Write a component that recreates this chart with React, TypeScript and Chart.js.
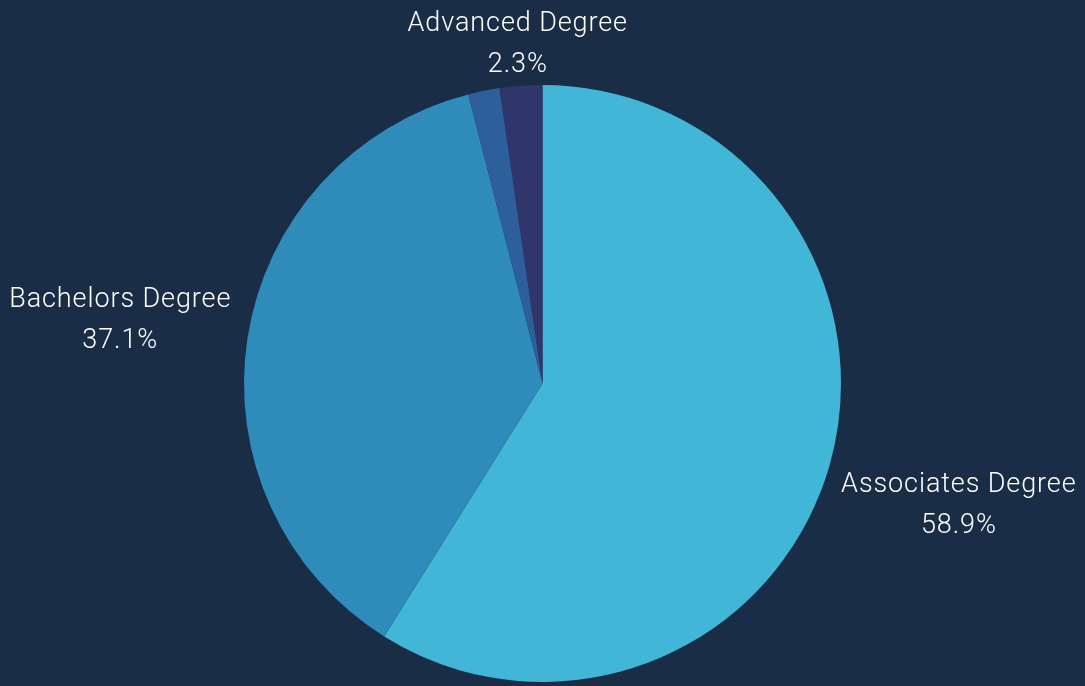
import React, { useEffect, useRef } from "react";
import { Chart, registerables } from "chart.js";

Chart.register(...registerables);

const categories = ["Associates Degree", "Bachelors Degree", "Other", "Advanced Degree"];
const values = [58.9, 37.1, 1.7, 2.3];
const colors = ["#41b6d6", "#2e8bba", "#2d5f9a", "#30356b"];
const labelMinPct = 2;

const BG = "#192d46";
const FONT = "300 27px Roboto, 'Open Sans', sans-serif";

const outsideLabels = {
  id: "outsideLabels",
  afterDatasetsDraw(chart: any) {
    const ctx = chart.ctx as CanvasRenderingContext2D;
    const meta = chart.getDatasetMeta(0);
    const total = values.reduce((a, b) => a + b, 0);
    ctx.save();
    ctx.font = FONT;
    (ctx as any).letterSpacing = "0.9px";
    ctx.fillStyle = "#ffffff";
    ctx.textAlign = "center";
    ctx.textBaseline = "middle";
    const lineH = 41;
    const gap = 16;
    const h = 40;
    const yShift = 3;
    meta.data.forEach((arc: any, i: number) => {
      const pct = (values[i] / total) * 100;
      if (pct < labelMinPct) return;
      const { x, y, startAngle, endAngle, outerRadius } = arc.getProps(
        ["x", "y", "startAngle", "endAngle", "outerRadius"],
        true
      );
      const mid = (startAngle + endAngle) / 2;
      const ux = Math.cos(mid);
      const uy = Math.sin(mid);
      const l1 = categories[i];
      const l2 = pct.toFixed(1) + "%";
      const w = Math.max(ctx.measureText(l1).width, ctx.measureText(l2).width);
      const d = outerRadius + gap + Math.abs(ux) * (w / 2) + Math.abs(uy) * (h / 2);
      const cx = x + ux * d;
      const cy = y + uy * d + yShift;
      ctx.fillText(l1, cx, cy - lineH / 2);
      ctx.fillText(l2, cx, cy + lineH / 2);
    });
    ctx.restore();
  },
};

export default function App() {
  const ref = useRef<HTMLCanvasElement | null>(null);
  useEffect(() => {
    document.body.style.margin = "0";
    document.body.style.background = BG;
    const chart = new Chart(ref.current!, {
      type: "pie",
      data: {
        labels: categories,
        datasets: [
          {
            data: values,
            backgroundColor: colors,
            borderWidth: 0,
          },
        ],
      },
      options: {
        animation: false,
        responsive: false,
        layout: { padding: { top: 85, bottom: 4, left: 0, right: 0 } },
        plugins: {
          legend: { display: false },
          tooltip: { enabled: false },
        },
      },
      plugins: [outsideLabels],
    });
    return () => chart.destroy();
  }, []);
  return (
    <div style={{ width: 1085, height: 686, background: BG }}>
      <canvas ref={ref} width={1085} height={686} style={{ display: "block" }} />
    </div>
  );
}
